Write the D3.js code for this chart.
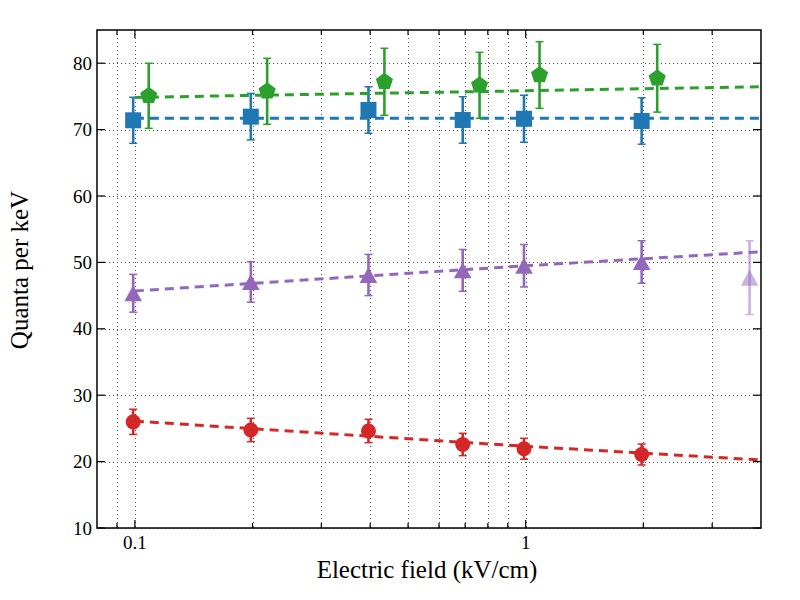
<!DOCTYPE html>
<html>
<head>
<meta charset="utf-8">
<script src="https://cdn.jsdelivr.net/npm/d3@7"></script>
<style>
  body { margin: 0; background: #fff; }
</style>
</head>
<body>
<div id="chart"></div>
<script>
// field values (kV/cm)
const fieldMain = [0.099, 0.198, 0.396, 0.69, 0.99, 1.98];
const fieldGreen = [0.1085, 0.218, 0.435, 0.762, 1.085, 2.17];

const blueVals = [71.4, 71.95, 72.95, 71.45, 71.63, 71.3];
const blueErr = [3.47, 3.5, 3.5, 3.5, 3.54, 3.5];
const greenVals = [75.09, 75.77, 77.2, 76.67, 78.22, 77.73];
const greenErr = [4.9, 4.97, 5.05, 4.97, 5.02, 5.1];
const purpleVals = [45.35, 47.05, 48.1, 48.8, 49.5, 50.06];
const purpleErr = [2.85, 3.05, 3.1, 3.15, 3.2, 3.2];
const redVals = [25.99, 24.76, 24.61, 22.58, 21.93, 21.07];
const redErr = [1.9, 1.76, 1.76, 1.68, 1.58, 1.58];

// faded extra point
const extraField = [3.74];
const extraVals = [47.7];
const extraErr = [5.55];

// fit lines: values at these fields
const fitField = [0.1, 1, 4];
const blueFit = [71.7, 71.7, 71.7];
const greenFit = [74.85, 75.85, 76.45];
const purpleFit = [45.7, 49.5, 51.6];
const redFit = [26.1, 22.3, 20.24];

const yTicks = [10, 20, 30, 40, 50, 60, 70, 80];
const xMajor = [0.1, 1];
const xMinor = [0.09, 0.2, 0.3, 0.4, 0.5, 0.6, 0.7, 0.8, 0.9, 2, 3];

const margin = { top: 30, right: 39, bottom: 72, left: 97 };
const W = 800, H = 600;
const width = W - margin.left - margin.right;
const height = H - margin.top - margin.bottom;
const FONT = "Liberation Serif";

const svg = d3.select("#chart").append("svg")
  .attr("width", W).attr("height", H);

const root = svg.append("g")
  .attr("transform", `translate(${margin.left},${margin.top})`);

const x = d3.scaleLog().domain([0.08, 4]).range([0, width]);
const y = d3.scaleLinear().domain([10, 85]).range([height, 0]);

svg.append("defs").append("clipPath").attr("id", "clip")
  .append("rect").attr("width", width).attr("height", height);

// grid
const grid = root.append("g")
  .attr("stroke", "#000")
  .attr("stroke-width", 1)
  .attr("stroke-dasharray", "1,3")
  .attr("opacity", 0.7);
grid.selectAll(".gx").data(xMajor.concat(xMinor)).join("line")
  .attr("x1", d => Math.round(x(d)) + 0.5).attr("x2", d => Math.round(x(d)) + 0.5)
  .attr("y1", 0).attr("y2", height);
grid.selectAll(".gy").data(yTicks).join("line")
  .attr("y1", d => Math.round(y(d)) + 0.5).attr("y2", d => Math.round(y(d)) + 0.5)
  .attr("x1", 0).attr("x2", width);

// ticks (inward, on all four sides)
const ticks = root.append("g").attr("stroke", "#000").attr("stroke-width", 1.2);
yTicks.forEach(v => {
  const yy = y(v);
  ticks.append("line").attr("x1", 0).attr("x2", 8).attr("y1", yy).attr("y2", yy);
  ticks.append("line").attr("x1", width).attr("x2", width - 8).attr("y1", yy).attr("y2", yy);
});
xMajor.forEach(v => {
  const xx = x(v);
  ticks.append("line").attr("x1", xx).attr("x2", xx).attr("y1", height).attr("y2", height - 8);
  ticks.append("line").attr("x1", xx).attr("x2", xx).attr("y1", 0).attr("y2", 8);
});
xMinor.forEach(v => {
  const xx = x(v);
  ticks.append("line").attr("x1", xx).attr("x2", xx).attr("y1", height).attr("y2", height - 5);
  ticks.append("line").attr("x1", xx).attr("x2", xx).attr("y1", 0).attr("y2", 5);
});

// tick labels
root.append("g").selectAll("text").data(yTicks).join("text")
  .attr("x", -5).attr("y", d => y(d) + 6.5)
  .attr("text-anchor", "end").attr("font-size", 19).style("font-family", FONT)
  .text(d => d);
root.append("g").selectAll("text").data(xMajor).join("text")
  .attr("x", d => x(d)).attr("y", height + 21)
  .attr("text-anchor", "middle").attr("font-size", 19).style("font-family", FONT)
  .text(d => d);

// axis titles
root.append("text")
  .attr("x", width / 2 - 2).attr("y", height + 50)
  .attr("text-anchor", "middle").attr("font-size", 25).style("font-family", FONT)
  .text("Electric field (kV/cm)");
root.append("text")
  .attr("transform", `translate(${-69},${height / 2 - 9}) rotate(-90)`)
  .attr("text-anchor", "middle").attr("font-size", 25).style("font-family", FONT)
  .text("Quanta per keV");

// marker shapes
function markerPath(shape, s) {
  if (shape === "square") return `M${-s},${-s}H${s}V${s}H${-s}Z`;
  if (shape === "triangle") return `M0,${-s}L${s * 1.1},${s}L${-s * 1.1},${s}Z`;
  if (shape === "pentagon") {
    const pts = d3.range(5).map(i => {
      const a = -Math.PI / 2 + i * 2 * Math.PI / 5;
      return [Math.cos(a) * s, Math.sin(a) * s];
    });
    return "M" + pts.map(p => p.join(",")).join("L") + "Z";
  }
  return d3.symbol(d3.symbolCircle, Math.PI * s * s)();
}

const series = [
  { color: "#1f77b4", xs: fieldMain, vals: blueVals, err: blueErr, fit: blueFit, shape: "square", size: 8 },
  { color: "#2ca02c", xs: fieldGreen, vals: greenVals, err: greenErr, fit: greenFit, shape: "pentagon", size: 9 },
  { color: "#9467bd", xs: fieldMain, vals: purpleVals, err: purpleErr, fit: purpleFit, shape: "triangle", size: 8 },
  { color: "#d62728", xs: fieldMain, vals: redVals, err: redErr, fit: redFit, shape: "circle", size: 7.5 },
];

const line = d3.line().x(d => x(d[0])).y(d => y(d[1]));

const plot = root.append("g").attr("clip-path", "url(#clip)");

function drawPoints(g, s, xs, vals, err, opacity) {
  const pts = xs.map((xv, i) => ({ x: xv, v: vals[i], e: err[i] }));
  const eg = g.append("g").attr("stroke", s.color).attr("opacity", opacity);
  eg.selectAll(".bar").data(pts).join("line")
    .attr("stroke-width", 2.6)
    .attr("x1", d => x(d.x)).attr("x2", d => x(d.x))
    .attr("y1", d => y(d.v - d.e)).attr("y2", d => y(d.v + d.e));
  eg.selectAll(".capt").data(pts).join("line")
    .attr("stroke-width", 1.5)
    .attr("x1", d => x(d.x) - 4).attr("x2", d => x(d.x) + 4)
    .attr("y1", d => y(d.v + d.e)).attr("y2", d => y(d.v + d.e));
  eg.selectAll(".capb").data(pts).join("line")
    .attr("stroke-width", 1.5)
    .attr("x1", d => x(d.x) - 4).attr("x2", d => x(d.x) + 4)
    .attr("y1", d => y(d.v - d.e)).attr("y2", d => y(d.v - d.e));
  g.append("g").selectAll("path").data(pts).join("path")
    .attr("d", markerPath(s.shape, s.size))
    .attr("transform", d => `translate(${x(d.x)},${y(d.v)})`)
    .attr("fill", s.color).attr("fill-opacity", opacity)
    .attr("stroke", "none");
}

series.forEach(s => {
  const g = plot.append("g");
  g.append("path")
    .datum(fitField.map((f, i) => [f, s.fit[i]]))
    .attr("d", line)
    .attr("fill", "none")
    .attr("stroke", s.color)
    .attr("stroke-width", 3)
    .attr("stroke-dasharray", "9,6");
  drawPoints(g, s, s.xs, s.vals, s.err, 1);
});

// faded purple point
drawPoints(plot.append("g"), series[2], extraField, extraVals, extraErr, 0.5);

// frame
root.append("rect")
  .attr("width", width).attr("height", height)
  .attr("fill", "none").attr("stroke", "#000").attr("stroke-width", 1.5);
</script>
</body>
</html>
